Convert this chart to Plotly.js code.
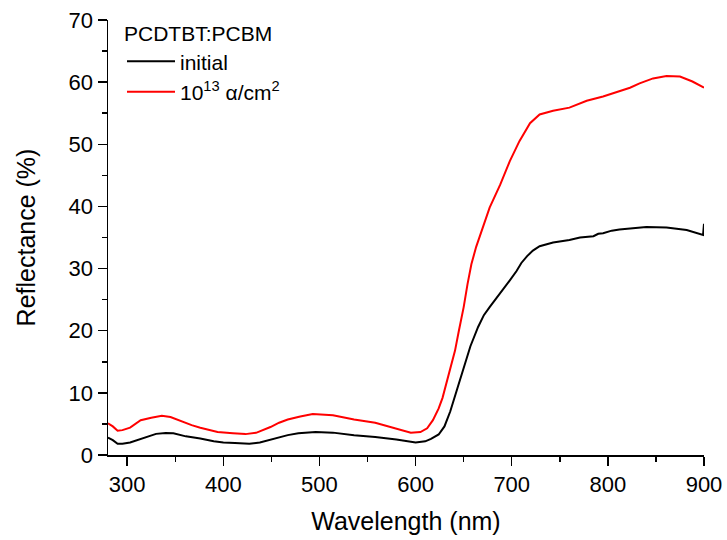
<!DOCTYPE html>
<html>
<head>
<meta charset="utf-8">
<script src="https://cdn.plot.ly/plotly-3.0.1.min.js"></script>
<style>html,body{margin:0;padding:0;background:#fff;}#chart{width:727px;height:540px;}</style>
</head>
<body>
<div id="chart"></div>
<script>
const legendTitle = "PCDTBT:PCBM";
const seriesNames = ["initial", "10<sup>13</sup> α/cm<sup>2</sup>"];

const initialX = [280,285,290,295,303,312,321,330,340,348,361,376,390,400,412,427,438,447,456,467,478,496,514,536,558,580,600,610,616,624,630,636,643,650,657,665,671,677,684,691,698,705,710,716,722,729,743,760,771,785,790,795,804,812,823,840,861,882,899,900];
const initialY = [2.8,2.4,1.8,1.8,2.0,2.5,3.0,3.4,3.55,3.5,3.0,2.67,2.2,2.0,1.92,1.82,2.0,2.4,2.8,3.2,3.5,3.7,3.6,3.17,2.9,2.5,2.0,2.2,2.6,3.3,4.6,7.0,10.5,14.2,17.5,20.6,22.5,23.8,25.2,26.7,28.1,29.6,30.9,32.0,32.9,33.6,34.2,34.6,35.0,35.2,35.6,35.7,36.1,36.3,36.5,36.7,36.6,36.2,35.4,37.2];

const irrX = [280,285,290,295,303,314,325,336,345,358,367,376,394,410,423,434,442,449,458,467,480,493,514,536,558,576,595,605,612,618,624,628,632,637,641,645,650,654,658,663,668,677,688,698,708,719,729,743,760,771,778,795,812,823,833,847,861,875,888,900];
const irrY = [5.1,4.6,3.9,4.0,4.4,5.6,6.0,6.3,6.1,5.3,4.8,4.4,3.7,3.5,3.36,3.57,4.0,4.5,5.2,5.7,6.2,6.6,6.4,5.7,5.2,4.4,3.6,3.7,4.3,5.6,7.5,9.2,11.5,14.5,16.8,20.0,23.8,27.5,30.7,33.5,35.8,39.8,43.5,47.3,50.5,53.4,54.8,55.4,55.9,56.5,57.0,57.7,58.5,59.1,59.8,60.6,61.0,60.9,60.1,59.1];

const xTitle = "Wavelength (nm)";
const yTitle = "Reflectance (%)";

const FONT = "Liberation Sans, Arial, sans-serif";

const traces = [
  {x: initialX, y: initialY, name: seriesNames[0], mode: "lines", line: {color: "#000000", width: 2}},
  {x: irrX, y: irrY, name: seriesNames[1], mode: "lines", line: {color: "#ff0000", width: 2}}
];

const axisCommon = {
  showline: true, linecolor: "#000", linewidth: 1.5,
  ticks: "outside", ticklen: 9, tickwidth: 1.5, tickcolor: "#000",
  showgrid: false, zeroline: false, mirror: false,
  tickfont: {family: FONT, size: 22, color: "#000"}
};

const layout = {
  width: 727, height: 540,
  margin: {l: 108, r: 23, t: 20, b: 85},
  paper_bgcolor: "#fff", plot_bgcolor: "#fff",
  font: {family: FONT, color: "#000"},
  showlegend: true,
  legend: {
    x: 0.0235, y: 1.014, xanchor: "left", yanchor: "top",
    bgcolor: "rgba(0,0,0,0)", borderwidth: 0,
    itemwidth: 48,
    font: {family: FONT, size: 21, color: "#000"},
    title: {text: legendTitle, font: {family: FONT, size: 21, color: "#000"}},
    tracegroupgap: 0
  },
  xaxis: Object.assign({}, axisCommon, {
    range: [280, 900], dtick: 100, tick0: 0,
    minor: {ticks: "outside", ticklen: 5, tickwidth: 1.5, tickcolor: "#000", dtick: 50, showgrid: false},
    title: {text: xTitle, font: {family: FONT, size: 25, color: "#000"}, standoff: 16}
  }),
  yaxis: Object.assign({}, axisCommon, {
    range: [0, 70], dtick: 10, tick0: 0,
    minor: {ticks: "outside", ticklen: 5, tickwidth: 1.5, tickcolor: "#000", dtick: 5, showgrid: false},
    title: {text: yTitle, font: {family: FONT, size: 25, color: "#000"}, standoff: 26}
  })
};

Plotly.newPlot("chart", traces, layout, {displayModeBar: false, staticPlot: true});
</script>
</body>
</html>
